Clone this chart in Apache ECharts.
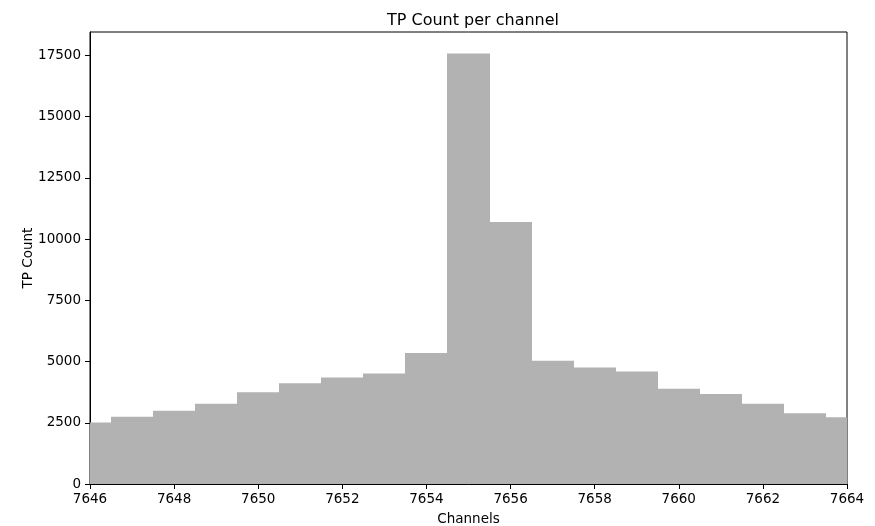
<!DOCTYPE html>
<html>
<head>
<meta charset="utf-8">
<script src="https://cdn.jsdelivr.net/npm/echarts@6/dist/echarts.min.js"></script>
<style>
  html, body { margin: 0; padding: 0; background: #fff; }
  #chart { width: 875px; height: 526px; }
</style>
</head>
<body>
<div id="chart"></div>
<script>
// channel bins (centred on each integer channel)
const channels = [7646, 7647, 7648, 7649, 7650, 7651, 7652, 7653, 7654, 7655,
                  7656, 7657, 7658, 7659, 7660, 7661, 7662, 7663, 7664]
const counts = [2510, 2750, 2995, 3280, 3745, 4115, 4345, 4510, 5355, 17580,
                10700, 5030, 4760, 4590, 3885, 3680, 3280, 2885, 2725]
const binWidth = 1

const chart = echarts.init(document.getElementById('chart'))
const font = 'DejaVu Sans'

const option = {
    animation: false,
    title: {
        text: 'TP Count per channel',
        left: 468,
        top: 8,
        textAlign: 'center',
        textStyle: { fontFamily: font, fontSize: 16, fontWeight: 'normal', color: '#000' },
    },
    grid: {
        left: 90,
        right: 28,
        top: 32,
        bottom: 42,
        containLabel: false,
        outerBoundsMode: 'none',
        show: true,
        borderColor: '#000',
        borderWidth: 1,
        backgroundColor: 'transparent',
    },
    xAxis: {
        type: 'value',
        min: 7646,
        max: 7664,
        interval: 2,
        name: 'Channels',
        nameLocation: 'middle',
        nameGap: 28,
        nameMoveOverlap: false,
        nameTextStyle: { fontFamily: font, fontSize: 13.5, color: '#000' },
        axisLine: { show: true, lineStyle: { color: '#000', width: 1 } },
        axisTick: { show: true, length: 5, lineStyle: { color: '#000' } },
        axisLabel: { fontFamily: font, fontSize: 13.5, color: '#000', margin: 8, formatter: v => String(v) },
        splitLine: { show: false },
    },
    yAxis: {
        type: 'value',
        min: 0,
        max: 18460,
        interval: 2500,
        name: 'TP Count',
        nameLocation: 'middle',
        nameGap: 55,
        nameMoveOverlap: false,
        nameTextStyle: { fontFamily: font, fontSize: 13.5, color: '#000' },
        axisLine: { show: true, lineStyle: { color: '#000', width: 1 } },
        axisTick: { show: true, length: 5, lineStyle: { color: '#000' } },
        axisLabel: { fontFamily: font, fontSize: 13.5, color: '#000', margin: 9, showMaxLabel: false, formatter: v => String(v) },
        splitLine: { show: false },
    },
    series: [{
        type: 'custom',
        data: channels.map((c, i) => [c, counts[i]]),
        encode: { x: 0, y: 1 },
        clip: true,
        renderItem: (params, api) => {
            const x = api.value(0)
            const y = api.value(1)
            const p0 = api.coord([x - binWidth / 2, 0])
            const p1 = api.coord([x + binWidth / 2, y])
            // snap bin edges to whole pixels so neighbouring bars have no seams
            const x0 = Math.round(p0[0])
            const x1 = Math.round(p1[0])
            const rect = echarts.graphic.clipRectByRect({
                x: x0,
                y: p1[1],
                width: x1 - x0,
                height: p0[1] - p1[1],
            }, {
                x: params.coordSys.x,
                y: params.coordSys.y,
                width: params.coordSys.width,
                height: params.coordSys.height,
            })
            return rect && {
                type: 'rect',
                shape: rect,
                style: { fill: '#b2b2b2' },
            }
        },
    }],
}
chart.setOption(option)
</script>
</body>
</html>
